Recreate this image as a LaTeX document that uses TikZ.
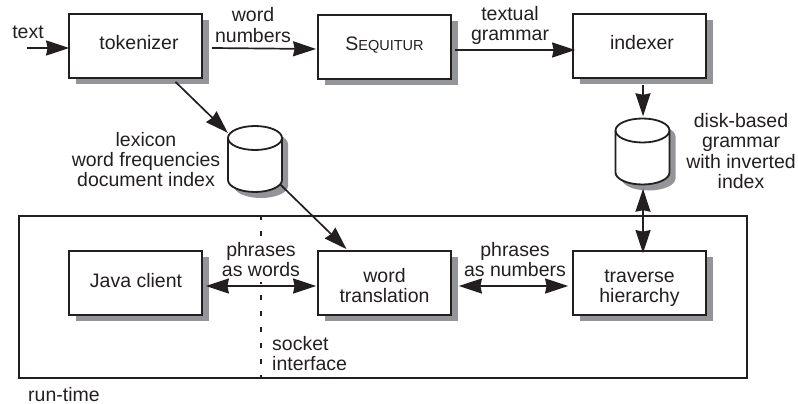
\documentclass[tikz,border=0pt]{standalone}
\usepackage{fontspec}
\setmainfont{Liberation Sans}
\usetikzlibrary{arrows.meta,shadows}
\definecolor{ink}{HTML}{231F20}
\definecolor{shadowgrey}{HTML}{939598}
\newcommand{\Stack}[1]{\begin{tabular}[t]{@{}c@{}}#1\end{tabular}}
% text inside a box: dx, dy give the first baseline's offset from the box centre
\newcommand{\Off}[3]{\makebox[0pt]{\hspace*{\dimexpr2\dimexpr#1pt\relax\relax}\raisebox{#2pt}{\smash{\Stack{#3}}}}}
% a disk drawn over its named, invisible node
\newcommand{\Disk}[1]{%
  \begin{scope}[shift={(#1.center)}]
    \fill[fill=shadowgrey,shift={(6,6)}] (-27,-21) -- (-27,21) arc[start angle=180,end angle=0,x radius=27,y radius=12] -- (27,-21) arc[start angle=0,end angle=-180,x radius=27,y radius=12] -- cycle;
    \draw[diskline,fill=white] (-27,-21) -- (-27,21) arc[start angle=180,end angle=0,x radius=27,y radius=12] -- (27,-21) arc[start angle=0,end angle=-180,x radius=27,y radius=12] -- cycle;
    \draw[diskline] (-27,-21) arc[start angle=180,end angle=0,x radius=27,y radius=12];
  \end{scope}}
\tikzset{
  x=1pt,y=-1pt,
  every node/.style={text=ink,font=\fontsize{19.5}{20}\selectfont},
  shadowed/.style={general shadow={shadow xshift=7pt,shadow yshift=-6pt,fill=shadowgrey,draw=none,opacity=1}},
  procbox/.style={draw=ink,line width=1.8pt,fill=white,minimum width=133pt,minimum height=64pt,inner sep=0pt,shadowed},
  disknode/.style={minimum width=54pt,minimum height=66pt,inner sep=0pt},
  diskline/.style={draw=ink,line width=1.8pt,line join=round},
  lab/.style={anchor=base,inner sep=0pt},
  labl/.style={anchor=base west,inner sep=0pt},
  bigtip/.tip={Stealth[length=23pt,width=15pt,inset=1.5pt]},
  conn/.style={draw=ink,line width=1.7pt,-bigtip},
  both/.style={draw=ink,line width=1.7pt,bigtip-bigtip},
}
\begin{document}
\begin{tikzpicture}
\useasboundingbox (0,0) rectangle (798,404);
% run-time frame
\node[draw=ink,line width=1.8pt,minimum width=728pt,minimum height=162.5pt,inner sep=0pt] (frame) at (383,297) {};
\draw[draw=ink,line width=1.3pt,dash pattern=on 5.5pt off 10.5pt] (frame.north -| 261,0) -- (frame.south -| 261,0);
% label that masks the dashed line
\node[lab,fill=white] (lpw) at (261,256) {\Stack{phrases\\as words}};
% boxes
\node[procbox] (tok) at (135.5,46) {\Off{3.5}{-8}{tokenizer}};
\node[procbox] (seq) at (384.5,47) {\Off{0}{-8}{S{\fontsize{14.5}{20}\selectfont EQUITUR}}};
\node[procbox] (idx) at (639.5,46) {\Off{2.5}{-8}{indexer}};
\node[procbox] (java) at (135.5,283) {\Off{0.5}{-9}{Java client}};
\node[procbox] (word) at (384.5,283) {\Off{0}{1}{word\\translation}};
\node[procbox] (trav) at (639.5,283) {\Off{0}{2}{traverse\\hierarchy}};
% disks
\node[disknode] (lex) at (255,159) {};
\node[disknode] (gram) at (642.5,151.5) {};
\Disk{lex}
\Disk{gram}
% free end
\coordinate (in) at (27,48);
% connectors
\draw[conn] (in) -- ([xshift=1pt,yshift=-2pt]tok.west);
\draw[conn] ([xshift=9pt,yshift=-2pt]tok.east) -- ([xshift=-1pt,yshift=-2pt]seq.west);
\draw[conn] ([xshift=3pt,yshift=-3pt]seq.east) -- ([xshift=3pt,yshift=-4pt]idx.west);
\draw[conn] ([xshift=40pt,yshift=-3pt]tok.south) -- ([xshift=0pt,yshift=-7pt]lex.north west);
\draw[conn] ([xshift=25pt,yshift=8pt]lex.south) -- ([xshift=-38pt,yshift=1pt]word.north);
\draw[conn] ([xshift=3.5pt,yshift=-6pt]idx.south) -- ([xshift=.5pt,yshift=2pt]gram.north);
\draw[both] ([xshift=.5pt,yshift=-4pt]gram.south) -- ([xshift=3.5pt,yshift=-3pt]trav.north);
\draw[both] ([xshift=3pt,yshift=-3pt]java.east) -- ([xshift=-1pt,yshift=-3pt]word.west);
\draw[both] ([xshift=7pt,yshift=-3pt]word.east) -- ([xshift=-4pt,yshift=-3pt]trav.west);
% labels
\node[lab] (ltext) at (28,39) {\Stack{text}};
\node[lab] (lwn) at (253,22) {\Stack{word\\numbers}};
\node[lab] (ltg) at (510,21) {\Stack{textual\\grammar}};
\node[lab] (llex) at (146,146) {\Stack{lexicon\\word frequencies\\document index}};
\node[lab] (ldisk) at (741,128) {\Stack{disk-based\\grammar\\with inverted\\index}};
\node[lab] (lpn) at (515,256.5) {\Stack{phrases\\as numbers}};
\node[labl] (lsock) at (272,350) {\begin{tabular}[t]{@{}l@{}}socket\\interface\end{tabular}};
\node[labl] (lrun) at (28,401) {run-time};
\end{tikzpicture}
\end{document}
